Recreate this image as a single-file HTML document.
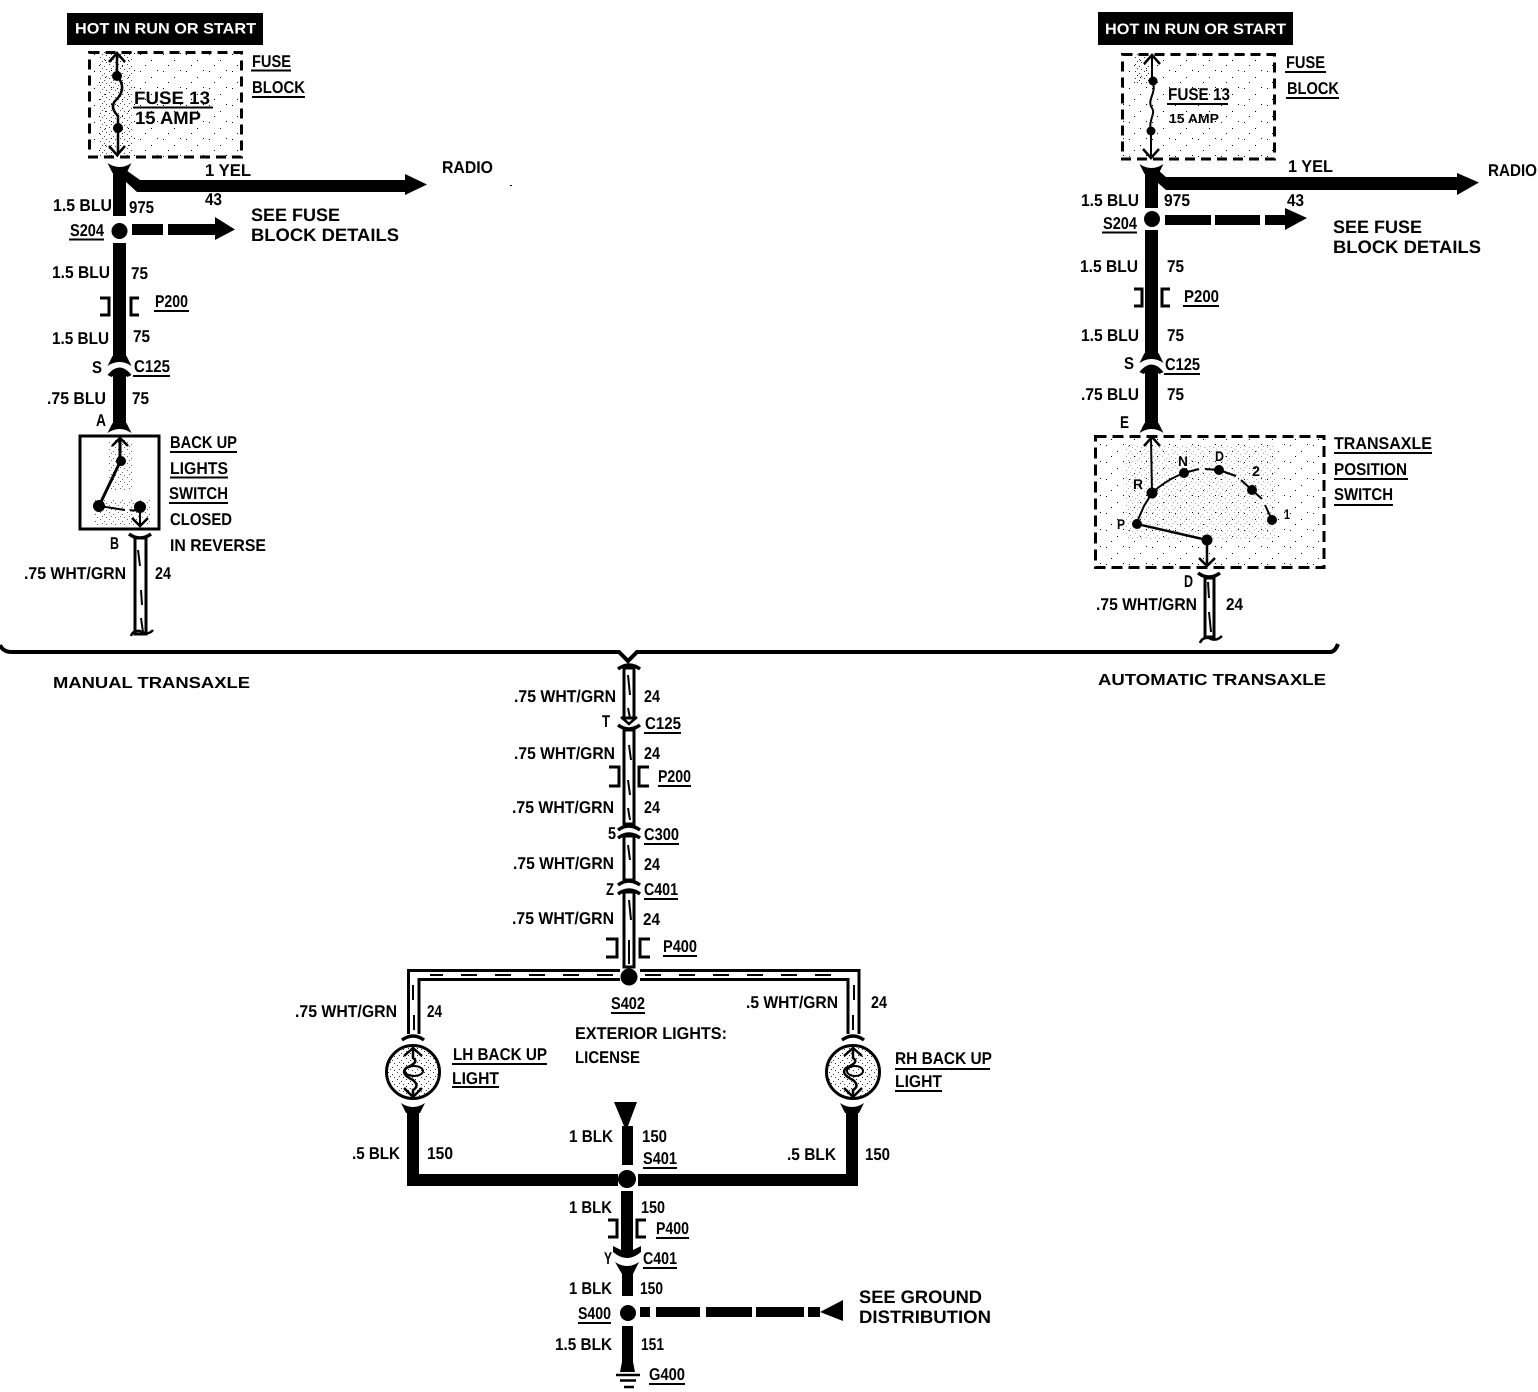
<!DOCTYPE html>
<html><head><meta charset="utf-8"><style>
html,body{margin:0;padding:0;background:#fff}
svg{display:block}
text{font-family:"Liberation Sans",sans-serif;font-weight:bold;fill:#000;font-size:17px}
.b{font-size:18px}
.s{font-size:14px}
.m{font-size:16px}
</style></head><body>
<svg width="1538" height="1392" viewBox="0 0 1538 1392" xmlns="http://www.w3.org/2000/svg" text-rendering="geometricPrecision">
<defs>
<path id="fu" d="M-12,-1 Q0,7 12,-1 L7,9 L-7,9Z"/>
<path id="fd" d="M-12,1 Q0,-7 12,1 L7,-9 L-7,-9Z"/>
<path id="fa" d="M-12,8 Q0,-7 12,8 L8,10 L6.500,9 V14 H-6.500 V9 L-8,10Z"/>
<path id="au" d="M-11,0 Q0,8 11,0" fill="none" stroke="#000" stroke-width="3.500"/>
<path id="ad" d="M-11,0 Q0,-8 11,0" fill="none" stroke="#000" stroke-width="3.500"/>
<path id="vd" d="M-8,-7 L0,0 L8,-7" fill="none" stroke="#000" stroke-width="2.500"/>
<pattern id="st" width="9" height="7" patternUnits="userSpaceOnUse"><rect x="1" y="1" width="1" height="1"/><rect x="5" y="3" width="1" height="1"/><rect x="3" y="5" width="1" height="1"/><rect x="7" y="6" width="1" height="1"/></pattern>
<pattern id="sp" width="23" height="17" patternUnits="userSpaceOnUse"><rect x="2" y="3" width="1" height="1"/><rect x="13" y="9" width="1" height="1"/><rect x="19" y="2" width="1" height="1"/><rect x="7" y="14" width="1" height="1"/></pattern>
</defs>

<!-- separator -->
<path d="M0,645 Q3,652 12,652 L619,652 L628,661 L637,652 L1330,652 Q1335,652 1338,644" fill="none" stroke="#000" stroke-width="4"/>
<text class="m" x="53" y="688" textLength="197" lengthAdjust="spacingAndGlyphs">MANUAL TRANSAXLE</text>
<text class="m" x="1098" y="685" textLength="228" lengthAdjust="spacingAndGlyphs">AUTOMATIC TRANSAXLE</text>

<!-- LEFT TOP -->
<rect x="67" y="13" width="196" height="32"/>
<text x="75" y="33.500" style="fill:#fff;font-size:15px" textLength="181" lengthAdjust="spacingAndGlyphs">HOT IN RUN OR START</text>
<rect x="89" y="52" width="153" height="105" fill="url(#sp)"/>
<rect x="98" y="52" width="34" height="105" fill="url(#st)" opacity=".7"/>
<rect x="89.500" y="52.500" width="152" height="104.500" fill="none" stroke="#000" stroke-width="3" stroke-dasharray="10 6"/>
<path d="M117,54 V76 M117,76 C124,84 124,92 116,100 C110,106 114,112 118,116 V155" fill="none" stroke="#000" stroke-width="2.500"/>
<path d="M109,62 L117,53 L125,62 M109,146 L117,155 L125,146" fill="none" stroke="#000" stroke-width="2.500"/>
<circle cx="117" cy="76" r="5"/><circle cx="118" cy="128" r="5"/>
<text class="b" x="134" y="104" textLength="76" lengthAdjust="spacingAndGlyphs">FUSE 13</text>
<path d="M133,107.500 H213" stroke="#000" stroke-width="2"/>
<text class="b" x="135" y="124" textLength="66" lengthAdjust="spacingAndGlyphs">15 AMP</text>
<text x="252" y="67" textLength="39" lengthAdjust="spacingAndGlyphs">FUSE</text><path d="M251,70.500 H291" stroke="#000" stroke-width="2"/>
<text x="252" y="93" textLength="53" lengthAdjust="spacingAndGlyphs">BLOCK</text><path d="M252,97 H305" stroke="#000" stroke-width="2"/>

<use href="#fu" x="119.500" y="164"/>
<path d="M113,170 H126 L140,180 H405 V174 L427,184.500 L405,195 V192 H137 L126,182 V216 H113Z"/>
<text x="205" y="176" textLength="46" lengthAdjust="spacingAndGlyphs">1 YEL</text>
<text x="442" y="173" textLength="51" lengthAdjust="spacingAndGlyphs">RADIO</text>
<text x="205" y="205" textLength="17" lengthAdjust="spacingAndGlyphs">43</text>
<text x="53" y="211" textLength="59" lengthAdjust="spacingAndGlyphs">1.5 BLU</text>
<text x="129" y="213" textLength="25" lengthAdjust="spacingAndGlyphs">975</text>
<text x="70" y="236" textLength="34" lengthAdjust="spacingAndGlyphs">S204</text><path d="M69,239.500 H104" stroke="#000" stroke-width="2"/>
<circle cx="119.500" cy="231" r="8"/>
<rect x="132" y="224" width="31" height="11"/>
<path d="M168,224 H215 V217 L235,229.500 L215,240 V235 H168Z"/>
<text class="b" x="251" y="221" textLength="89" lengthAdjust="spacingAndGlyphs">SEE FUSE</text>
<text class="b" x="251" y="241" textLength="148" lengthAdjust="spacingAndGlyphs">BLOCK DETAILS</text>
<rect x="113" y="243" width="13" height="115"/>
<use href="#fd" x="119.500" y="365"/>
<use href="#fa" x="119.500" y="367"/>
<rect x="113" y="376" width="13" height="47"/>
<use href="#fd" x="119.500" y="432"/>
<text x="52" y="278" textLength="58" lengthAdjust="spacingAndGlyphs">1.5 BLU</text>
<text x="131" y="279" textLength="17" lengthAdjust="spacingAndGlyphs">75</text>
<path d="M100,298 H109 V315 H100 M139,298 H131 V315 H139" fill="none" stroke="#000" stroke-width="3"/>
<text x="155" y="307" textLength="33" lengthAdjust="spacingAndGlyphs">P200</text><path d="M154,311 H189" stroke="#000" stroke-width="2"/>
<text x="52" y="344" textLength="57" lengthAdjust="spacingAndGlyphs">1.5 BLU</text>
<text x="133" y="342" textLength="17" lengthAdjust="spacingAndGlyphs">75</text>
<text x="92" y="373" textLength="10" lengthAdjust="spacingAndGlyphs">S</text>
<text x="134" y="372" textLength="36" lengthAdjust="spacingAndGlyphs">C125</text><path d="M133,376 H170" stroke="#000" stroke-width="2"/>
<text x="47" y="404" textLength="59" lengthAdjust="spacingAndGlyphs">.75 BLU</text>
<text x="132" y="404" textLength="17" lengthAdjust="spacingAndGlyphs">75</text>
<text x="96" y="426" textLength="10" lengthAdjust="spacingAndGlyphs">A</text>

<!-- back up switch -->
<rect x="80" y="436" width="79" height="93" fill="none" stroke="#000" stroke-width="3"/>
<rect x="108" y="440" width="24" height="50" fill="url(#st)" opacity=".6"/>
<rect x="95" y="500" width="55" height="26" fill="url(#st)" opacity=".6"/>
<path d="M120,438 V462 L99,506" fill="none" stroke="#000" stroke-width="3"/>
<path d="M112,446 L120,438 L128,446 M132,518 L140,526 L148,518" fill="none" stroke="#000" stroke-width="2.500"/>
<path d="M99,506 L125,510 M130,510 Q136,512 140,507 V525" fill="none" stroke="#000" stroke-width="2"/>
<circle cx="121" cy="461" r="5"/><circle cx="99" cy="506" r="6"/><circle cx="140" cy="507" r="6"/>
<text x="170" y="448" textLength="67" lengthAdjust="spacingAndGlyphs">BACK UP</text><path d="M170,452 H237" stroke="#000" stroke-width="2"/>
<text x="170" y="474" textLength="58" lengthAdjust="spacingAndGlyphs">LIGHTS</text><path d="M170,477.500 H228" stroke="#000" stroke-width="2"/>
<text x="169" y="499" textLength="59" lengthAdjust="spacingAndGlyphs">SWITCH</text><path d="M169,503 H228" stroke="#000" stroke-width="2"/>
<text x="170" y="525" textLength="62" lengthAdjust="spacingAndGlyphs">CLOSED</text>
<text x="170" y="551" textLength="96" lengthAdjust="spacingAndGlyphs">IN REVERSE</text>
<text x="110" y="549" textLength="9" lengthAdjust="spacingAndGlyphs">B</text>
<text x="24" y="579" textLength="102" lengthAdjust="spacingAndGlyphs">.75 WHT/GRN</text>
<text x="155" y="579" textLength="16" lengthAdjust="spacingAndGlyphs">24</text>
<use href="#au" x="140" y="534"/>
<rect x="135" y="538" width="11" height="96" fill="#fff" stroke="#000" stroke-width="3"/>
<path d="M138,550 L140,566 M141,590 L142,605 M141,618 L143,632" stroke="#000" stroke-width="2"/>
<path d="M131,636 Q133,630 140,631 Q148,636 153,630" fill="none" stroke="#000" stroke-width="2.500"/>

<!-- RIGHT TOP -->
<rect x="1098" y="12" width="195" height="33"/>
<text x="1105" y="34" style="fill:#fff;font-size:15px" textLength="181" lengthAdjust="spacingAndGlyphs">HOT IN RUN OR START</text>
<rect x="1122" y="54" width="153" height="105" fill="url(#sp)"/>
<rect x="1135" y="54" width="14" height="30" fill="url(#st)" opacity=".8"/>
<rect x="1122.500" y="54.500" width="152" height="104.500" fill="none" stroke="#000" stroke-width="3" stroke-dasharray="10 6"/>
<path d="M1152,56 V81 C1158,92 1146,100 1152,108 C1156,114 1148,120 1151,131 V157" fill="none" stroke="#000" stroke-width="2"/>
<path d="M1144,64 L1152,55 L1160,64 M1143,149 L1151,158 L1159,149" fill="none" stroke="#000" stroke-width="2.500"/>
<circle cx="1153" cy="81" r="4.500"/><circle cx="1151" cy="131" r="4.500"/>
<text class="b" x="1168" y="100" style="font-size:17px" textLength="62" lengthAdjust="spacingAndGlyphs">FUSE 13</text>
<path d="M1167,104 H1228" stroke="#000" stroke-width="2"/>
<text class="s" x="1169" y="123" style="font-size:13px" textLength="50" lengthAdjust="spacingAndGlyphs">15 AMP</text>
<text x="1286" y="68" textLength="39" lengthAdjust="spacingAndGlyphs">FUSE</text><path d="M1285,72 H1326" stroke="#000" stroke-width="2"/>
<text x="1287" y="94" textLength="52" lengthAdjust="spacingAndGlyphs">BLOCK</text><path d="M1286,98 H1339" stroke="#000" stroke-width="2"/>

<use href="#fu" x="1151.500" y="165"/>
<path d="M1145,170 H1158 L1166,177 H1457 V173 L1479,182.500 L1457,195 V190 H1166 L1158,183 V208 H1145Z"/>
<text x="1288" y="172" textLength="45" lengthAdjust="spacingAndGlyphs">1 YEL</text>
<text x="1488" y="176" textLength="49" lengthAdjust="spacingAndGlyphs">RADIO</text>
<text x="1287" y="206" textLength="17" lengthAdjust="spacingAndGlyphs">43</text>
<text x="1081" y="206" textLength="58" lengthAdjust="spacingAndGlyphs">1.5 BLU</text>
<text x="1164" y="206" textLength="26" lengthAdjust="spacingAndGlyphs">975</text>
<text x="1103" y="229" textLength="34" lengthAdjust="spacingAndGlyphs">S204</text><path d="M1102,232.500 H1137" stroke="#000" stroke-width="2"/>
<circle cx="1152" cy="219" r="8"/>
<rect x="1165" y="215" width="46" height="10"/>
<rect x="1215" y="215" width="45" height="10"/>
<path d="M1265,215 H1285 V208 L1307,218 L1285,230 V225 H1265Z"/>
<text class="b" x="1333" y="233" textLength="89" lengthAdjust="spacingAndGlyphs">SEE FUSE</text>
<text class="b" x="1333" y="253" textLength="148" lengthAdjust="spacingAndGlyphs">BLOCK DETAILS</text>
<rect x="1145" y="230" width="13" height="125"/>
<use href="#fd" x="1151.500" y="362"/>
<use href="#fa" x="1151.500" y="364"/>
<rect x="1145" y="373" width="13" height="52"/>
<use href="#fd" x="1151.500" y="432"/>
<text x="1080" y="272" textLength="58" lengthAdjust="spacingAndGlyphs">1.5 BLU</text>
<text x="1167" y="272" textLength="17" lengthAdjust="spacingAndGlyphs">75</text>
<path d="M1134,289 H1142 V306 H1134 M1170,289 H1162 V306 H1170" fill="none" stroke="#000" stroke-width="3"/>
<text x="1184" y="302" textLength="35" lengthAdjust="spacingAndGlyphs">P200</text><path d="M1183,306 H1219" stroke="#000" stroke-width="2"/>
<text x="1081" y="341" textLength="58" lengthAdjust="spacingAndGlyphs">1.5 BLU</text>
<text x="1167" y="341" textLength="17" lengthAdjust="spacingAndGlyphs">75</text>
<text x="1124" y="369" textLength="10" lengthAdjust="spacingAndGlyphs">S</text>
<text x="1165" y="370" textLength="35" lengthAdjust="spacingAndGlyphs">C125</text><path d="M1164,374 H1200" stroke="#000" stroke-width="2"/>
<text x="1081" y="400" textLength="58" lengthAdjust="spacingAndGlyphs">.75 BLU</text>
<text x="1167" y="400" textLength="17" lengthAdjust="spacingAndGlyphs">75</text>
<text x="1120" y="428" textLength="9" lengthAdjust="spacingAndGlyphs">E</text>

<!-- transaxle position switch -->
<rect x="1095" y="436" width="229" height="132" fill="url(#sp)"/>
<rect x="1125" y="445" width="150" height="95" fill="url(#st)" opacity=".35"/>
<rect x="1095.500" y="436.500" width="228.500" height="131" fill="none" stroke="#000" stroke-width="3" stroke-dasharray="11 6"/>
<path d="M1151,438 L1152,493" fill="none" stroke="#000" stroke-width="2"/>
<path d="M1144,446 L1152,437 L1160,446 M1199,558 L1207,566 L1215,558" fill="none" stroke="#000" stroke-width="2.500"/>
<path d="M1137,522 L1144,506 L1152,493 Q1166,480 1184,473 L1199,469 M1205,469 L1219,470 L1236,476 M1241,480 L1252,490 L1262,499 M1265,505 L1272,520" fill="none" stroke="#000" stroke-width="2"/>
<path d="M1137,524 L1207,540 V564" fill="none" stroke="#000" stroke-width="2.500"/>
<circle cx="1137" cy="524" r="5"/><circle cx="1152" cy="493" r="5.500"/><circle cx="1184" cy="473" r="5"/><circle cx="1219" cy="470" r="5"/><circle cx="1252" cy="490" r="5"/><circle cx="1272" cy="520" r="5"/><circle cx="1207" cy="540" r="5.500"/>
<text class="s" x="1133" y="489" textLength="10" lengthAdjust="spacingAndGlyphs">R</text>
<text class="s" x="1178" y="466" textLength="10" lengthAdjust="spacingAndGlyphs">N</text>
<text class="s" x="1215" y="461" textLength="9" lengthAdjust="spacingAndGlyphs">D</text>
<text class="s" x="1252" y="476" textLength="8" lengthAdjust="spacingAndGlyphs">2</text>
<text class="s" x="1284" y="519" textLength="6" lengthAdjust="spacingAndGlyphs">1</text>
<text class="s" x="1117" y="529" textLength="8" lengthAdjust="spacingAndGlyphs">P</text>
<text x="1334" y="449" textLength="98" lengthAdjust="spacingAndGlyphs">TRANSAXLE</text><path d="M1334,453 H1432" stroke="#000" stroke-width="2"/>
<text x="1334" y="475" textLength="73" lengthAdjust="spacingAndGlyphs">POSITION</text><path d="M1334,479 H1408" stroke="#000" stroke-width="2"/>
<text x="1334" y="500" textLength="59" lengthAdjust="spacingAndGlyphs">SWITCH</text><path d="M1334,505 H1393" stroke="#000" stroke-width="2"/>
<text x="1184" y="587" textLength="9" lengthAdjust="spacingAndGlyphs">D</text>
<text x="1096" y="610" textLength="101" lengthAdjust="spacingAndGlyphs">.75 WHT/GRN</text>
<text x="1226" y="610" textLength="17" lengthAdjust="spacingAndGlyphs">24</text>
<use href="#au" x="1209" y="573"/>
<rect x="1205" y="578" width="9" height="59" fill="#fff" stroke="#000" stroke-width="3"/>
<path d="M1208,582 L1209,598 M1209,612 L1211,632" stroke="#000" stroke-width="2"/>
<path d="M1200,643 Q1202,637 1209,638 Q1216,642 1222,636" fill="none" stroke="#000" stroke-width="2.500"/>

<!-- CENTER white wire -->
<rect x="624" y="668" width="10" height="50" fill="#fff" stroke="#000" stroke-width="3"/>
<rect x="624" y="730" width="10" height="94" fill="#fff" stroke="#000" stroke-width="3"/>
<rect x="624" y="836" width="10" height="44" fill="#fff" stroke="#000" stroke-width="3"/>
<rect x="624" y="892" width="10" height="75" fill="#fff" stroke="#000" stroke-width="3"/>
<path d="M628,675 L630,695 M628,708 L630,718 M629,745 L631,760 M628,780 L630,795 M628,808 L630,820 M628,845 L630,860 M629,900 L631,920 M629,940 V964" stroke="#000" stroke-width="2"/>
<use href="#ad" x="629" y="669"/>
<use href="#vd" x="629" y="724"/>
<use href="#au" x="629" y="725"/>
<use href="#ad" x="629" y="830"/>
<use href="#ad" x="629" y="838"/>
<use href="#ad" x="629" y="885"/>
<use href="#ad" x="629" y="894"/>
<text x="514" y="702" textLength="102" lengthAdjust="spacingAndGlyphs">.75 WHT/GRN</text>
<text x="644" y="702" textLength="16" lengthAdjust="spacingAndGlyphs">24</text>
<text x="602" y="727" textLength="8" lengthAdjust="spacingAndGlyphs">T</text>
<text x="645" y="729" textLength="36" lengthAdjust="spacingAndGlyphs">C125</text><path d="M644,733 H681" stroke="#000" stroke-width="2"/>
<text x="514" y="759" textLength="101" lengthAdjust="spacingAndGlyphs">.75 WHT/GRN</text>
<text x="644" y="759" textLength="16" lengthAdjust="spacingAndGlyphs">24</text>
<path d="M609,767 H619 V786 H609 M649,767 H639 V786 H649" fill="none" stroke="#000" stroke-width="3"/>
<text x="658" y="782" textLength="33" lengthAdjust="spacingAndGlyphs">P200</text><path d="M658,786 H691" stroke="#000" stroke-width="2"/>
<text x="512" y="813" textLength="102" lengthAdjust="spacingAndGlyphs">.75 WHT/GRN</text>
<text x="644" y="813" textLength="16" lengthAdjust="spacingAndGlyphs">24</text>
<text x="608" y="839" textLength="8" lengthAdjust="spacingAndGlyphs">5</text>
<text x="644" y="840" textLength="35" lengthAdjust="spacingAndGlyphs">C300</text><path d="M644,844 H679" stroke="#000" stroke-width="2"/>
<text x="513" y="869" textLength="101" lengthAdjust="spacingAndGlyphs">.75 WHT/GRN</text>
<text x="644" y="870" textLength="16" lengthAdjust="spacingAndGlyphs">24</text>
<text x="606" y="895" textLength="8" lengthAdjust="spacingAndGlyphs">Z</text>
<text x="644" y="895" textLength="34" lengthAdjust="spacingAndGlyphs">C401</text><path d="M644,899 H678" stroke="#000" stroke-width="2"/>
<text x="512" y="924" textLength="102" lengthAdjust="spacingAndGlyphs">.75 WHT/GRN</text>
<text x="643" y="925" textLength="17" lengthAdjust="spacingAndGlyphs">24</text>
<path d="M606,939 H617 V957 H606 M650,939 H640 V957 H650" fill="none" stroke="#000" stroke-width="3"/>
<text x="663" y="952" textLength="34" lengthAdjust="spacingAndGlyphs">P400</text><path d="M663,956 H697" stroke="#000" stroke-width="2"/>

<!-- horizontal white harness -->
<path d="M620,970.500 H408.500 V1034 M419,1034 V979.500 H620" fill="none" stroke="#000" stroke-width="3"/>
<path d="M640,970.500 H859 V1034 M848,1034 V979.500 H640" fill="none" stroke="#000" stroke-width="3"/>
<path d="M613,975 H430 M645,975 H845" fill="none" stroke="#000" stroke-width="2" stroke-dasharray="16 18"/>
<path d="M413,985 V1000 M414,1015 V1030 M854,985 V1000 M853,1015 V1030" stroke="#000" stroke-width="2"/>
<circle cx="629" cy="977" r="8.500"/>
<text x="611" y="1009" textLength="34" lengthAdjust="spacingAndGlyphs">S402</text><path d="M611,1013 H645" stroke="#000" stroke-width="2"/>
<text x="575" y="1039" textLength="152" lengthAdjust="spacingAndGlyphs">EXTERIOR LIGHTS:</text>
<text x="575" y="1063" textLength="65" lengthAdjust="spacingAndGlyphs">LICENSE</text>
<text x="295" y="1017" textLength="102" lengthAdjust="spacingAndGlyphs">.75 WHT/GRN</text>
<text x="427" y="1017" textLength="15" lengthAdjust="spacingAndGlyphs">24</text>
<text x="746" y="1008" textLength="92" lengthAdjust="spacingAndGlyphs">.5 WHT/GRN</text>
<text x="871" y="1008" textLength="16" lengthAdjust="spacingAndGlyphs">24</text>

<!-- bulbs -->
<use href="#ad" x="413" y="1040"/><use href="#ad" x="853" y="1040"/>
<circle cx="413" cy="1072" r="26.500" fill="#fff" stroke="#000" stroke-width="3"/>
<circle cx="413" cy="1072" r="25" fill="url(#st)" opacity=".8"/>
<circle cx="853" cy="1072" r="26.500" fill="#fff" stroke="#000" stroke-width="3"/>
<circle cx="853" cy="1072" r="25" fill="url(#st)" opacity=".8"/>
<path d="M413,1050 V1058 Q420,1062 406,1068 Q400,1074 413,1080 Q420,1086 413,1090 V1096 M404,1056 L413,1048 L422,1056 M404,1088 L413,1097 L422,1088" fill="none" stroke="#000" stroke-width="2.500"/>
<ellipse cx="414" cy="1071" rx="9" ry="5" fill="none" stroke="#000" stroke-width="2"/>
<path d="M853,1050 V1058 Q860,1062 846,1068 Q840,1074 853,1080 Q860,1086 853,1090 V1096 M844,1056 L853,1048 L862,1056 M844,1088 L853,1097 L862,1088" fill="none" stroke="#000" stroke-width="2.500"/>
<ellipse cx="855" cy="1071" rx="8" ry="5" fill="none" stroke="#000" stroke-width="2"/>
<text x="453" y="1060" textLength="94" lengthAdjust="spacingAndGlyphs">LH BACK UP</text><path d="M452,1064 H547" stroke="#000" stroke-width="2"/>
<text x="452" y="1084" textLength="47" lengthAdjust="spacingAndGlyphs">LIGHT</text><path d="M452,1087 H499" stroke="#000" stroke-width="2"/>
<text x="895" y="1064" textLength="97" lengthAdjust="spacingAndGlyphs">RH BACK UP</text><path d="M895,1069 H990" stroke="#000" stroke-width="2"/>
<text x="895" y="1087" textLength="47" lengthAdjust="spacingAndGlyphs">LIGHT</text><path d="M895,1091 H942" stroke="#000" stroke-width="2"/>

<!-- black lower -->
<use href="#fu" x="413" y="1104"/><use href="#fu" x="852" y="1104"/>
<path d="M407,1110 H419 V1174 H618 V1186 H407Z"/>
<path d="M846,1110 H858 V1186 H638 V1174 H846Z"/>
<circle cx="627" cy="1179" r="9"/>
<path d="M614,1102 H637 L628,1126 H624Z"/>
<rect x="622" y="1126" width="11" height="39"/>
<rect x="621" y="1191" width="12" height="60"/>
<path d="M613,1246 L621,1250 H633 L641,1246 V1252 Q627,1264 613,1252Z"/>
<path d="M615,1262 Q627,1270 639,1262 L633,1274 V1296 H622 V1274Z"/>
<circle cx="628" cy="1313" r="8"/>
<rect x="640" y="1307" width="10" height="10"/>
<rect x="656" y="1307" width="44" height="10"/>
<rect x="706" y="1307" width="46" height="10"/>
<rect x="756" y="1307" width="48" height="10"/>
<rect x="808" y="1307" width="12" height="10"/>
<path d="M820,1312 L843,1300 V1321Z"/>
<path d="M622,1326 H633 V1362 L635,1372 H620 L622,1362Z"/>
<path d="M616,1375 H640 M620,1380.500 H636 M624,1387 H634" stroke="#000" stroke-width="2.500"/>
<text x="352" y="1159" textLength="48" lengthAdjust="spacingAndGlyphs">.5 BLK</text>
<text x="427" y="1159" textLength="26" lengthAdjust="spacingAndGlyphs">150</text>
<text x="569" y="1142" textLength="44" lengthAdjust="spacingAndGlyphs">1 BLK</text>
<text x="642" y="1142" textLength="25" lengthAdjust="spacingAndGlyphs">150</text>
<text x="643" y="1164" textLength="34" lengthAdjust="spacingAndGlyphs">S401</text><path d="M643,1168 H677" stroke="#000" stroke-width="2"/>
<text x="787" y="1160" textLength="49" lengthAdjust="spacingAndGlyphs">.5 BLK</text>
<text x="865" y="1160" textLength="25" lengthAdjust="spacingAndGlyphs">150</text>
<text x="569" y="1213" textLength="43" lengthAdjust="spacingAndGlyphs">1 BLK</text>
<text x="641" y="1213" textLength="24" lengthAdjust="spacingAndGlyphs">150</text>
<path d="M608,1220 H617 V1237 H608 M646,1220 H637 V1237 H646" fill="none" stroke="#000" stroke-width="3"/>
<text x="656" y="1234" textLength="33" lengthAdjust="spacingAndGlyphs">P400</text><path d="M656,1238 H689" stroke="#000" stroke-width="2"/>
<text x="604" y="1264" textLength="8" lengthAdjust="spacingAndGlyphs">Y</text>
<text x="643" y="1264" textLength="34" lengthAdjust="spacingAndGlyphs">C401</text><path d="M643,1268 H677" stroke="#000" stroke-width="2"/>
<text x="569" y="1294" textLength="43" lengthAdjust="spacingAndGlyphs">1 BLK</text>
<text x="640" y="1294" textLength="23" lengthAdjust="spacingAndGlyphs">150</text>
<text x="578" y="1319" textLength="33" lengthAdjust="spacingAndGlyphs">S400</text><path d="M578,1323 H611" stroke="#000" stroke-width="2"/>
<text x="555" y="1350" textLength="57" lengthAdjust="spacingAndGlyphs">1.5 BLK</text>
<text x="641" y="1350" textLength="23" lengthAdjust="spacingAndGlyphs">151</text>
<text x="649" y="1380" textLength="36" lengthAdjust="spacingAndGlyphs">G400</text><path d="M649,1384 H685" stroke="#000" stroke-width="2"/>
<text class="b" x="859" y="1303" textLength="123" lengthAdjust="spacingAndGlyphs">SEE GROUND</text>
<text class="b" x="859" y="1323" textLength="132" lengthAdjust="spacingAndGlyphs">DISTRIBUTION</text>
<rect x="510" y="185" width="2" height="1"/>
</svg>
</body></html>
